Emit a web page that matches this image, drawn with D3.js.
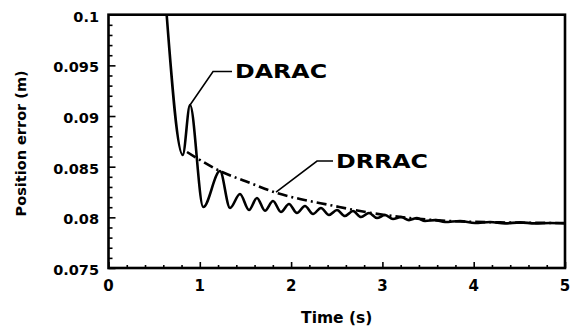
<!DOCTYPE html>
<html>
<head>
<meta charset="utf-8">
<script src="https://cdn.jsdelivr.net/npm/d3@7"></script>
<style>
    body { margin: 0; background: #fff; }
    svg { display: block; }
    text { font-family: "DejaVu Sans", "Liberation Sans", sans-serif; font-weight: bold; fill: #000; }
</style>
</head>
<body>
<svg id="chart"></svg>
<script>
// DARAC (solid) – time (s) and position error (m)
const daracTime = [0.637, 0.813, 0.893, 1.038, 1.221, 1.331, 1.440, 1.539, 1.626, 1.714,
    1.802, 1.889, 1.977, 2.064, 2.152, 2.240, 2.327, 2.415, 2.503, 2.590,
    2.678, 2.766, 2.853, 2.941, 3.028, 3.116, 3.204, 3.291, 3.379, 3.467,
    3.576, 3.686, 3.850, 4.014, 4.179, 4.343, 4.507, 4.671, 4.836, 5.0];
const daracError = [0.1, 0.08615, 0.09109, 0.08102, 0.08457, 0.08092, 0.0823, 0.08072, 0.08191, 0.08065,
    0.08161, 0.08053, 0.08132, 0.08043, 0.08112, 0.08033, 0.08092, 0.08023, 0.08072, 0.08013,
    0.08062, 0.08003, 0.08043, 0.07993, 0.08023, 0.07983, 0.08003, 0.07973, 0.07993, 0.07964,
    0.07973, 0.07954, 0.07964, 0.07944, 0.07954, 0.0794, 0.0795, 0.0794, 0.07944, 0.0794];

// DRRAC (dash-dot)
const drracTime = [0.860, 1.002, 1.243, 1.495, 1.845, 2.097, 2.426, 2.755, 3.028, 3.302, 3.740, 4.288, 5.0];
const drracError = [0.08645, 0.08566, 0.08447, 0.08359, 0.0824, 0.08181, 0.08121, 0.08062, 0.08023, 0.07993, 0.07964, 0.0795, 0.07944];

const xTicks = [0, 1, 2, 3, 4, 5];
const yTicks = [0.075, 0.08, 0.085, 0.09, 0.095, 0.1];
const yTickLabels = ['0.075', '0.08', '0.085', '0.09', '0.095', '0.1'];

const W = 573, H = 327;
const svg = d3.select('#chart').attr('width', W).attr('height', H);

const x = d3.scaleLinear().domain([0, 5]).range([108.5, 565]);
const y = d3.scaleLinear().domain([0.075, 0.1]).range([268, 14.7]);

svg.append('defs').append('clipPath').attr('id', 'plot-clip')
    .append('rect')
    .attr('x', x(0)).attr('y', y(0.1))
    .attr('width', x(5) - x(0)).attr('height', y(0.075) - y(0.1));

// 刻度（朝内）
const xMinor = d3.range(0, 5.001, 0.2).filter(v => Math.abs(v - Math.round(v)) > 1e-6);
const yMinor = d3.range(0.075, 0.1001, 0.001).filter(v => Math.abs(v * 200 - Math.round(v * 200)) > 1e-6);

const bottom = svg.append('g')
    .attr('transform', `translate(0,${y(0.075)})`)
    .call(d3.axisBottom(x).tickValues(xTicks).tickSize(-6).tickFormat(''));
bottom.append('g').call(d3.axisBottom(x).tickValues(xMinor).tickSize(-3).tickFormat(''));

const left = svg.append('g')
    .attr('transform', `translate(${x(0)},0)`)
    .call(d3.axisLeft(y).tickValues(yTicks).tickSize(-7).tickFormat(''));
left.append('g').call(d3.axisLeft(y).tickValues(yMinor).tickSize(-4).tickFormat(''));

svg.selectAll('.domain').remove();
svg.selectAll('.tick line').attr('stroke', '#000').attr('stroke-width', 1.6);

// 刻度标签
svg.append('g').selectAll('text')
    .data(xTicks).enter().append('text')
    .attr('x', d => x(d)).attr('y', 291)
    .attr('text-anchor', 'middle')
    .style('font-size', '15px')
    .text(d => d);

svg.append('g').selectAll('text')
    .data(yTicks).enter().append('text')
    .attr('x', 99).attr('y', d => y(d) + 7)
    .attr('text-anchor', 'end')
    .style('font-size', '14.5px')
    .text((d, i) => yTickLabels[i]);

// 坐标轴标题
svg.append('text')
    .attr('x', x(2.5)).attr('y', 323)
    .attr('text-anchor', 'middle')
    .style('font-size', '15.5px')
    .text('Time (s)');

svg.append('text')
    .attr('transform', `translate(26,${(y(0.1) + y(0.075)) / 2 + 2}) rotate(-90)`)
    .attr('text-anchor', 'middle')
    .style('font-size', '14.5px')
    .text('Position error (m)');

// 曲线
const plot = svg.append('g').attr('clip-path', 'url(#plot-clip)');

const lineGen = d3.line()
    .x(d => x(d[0]))
    .y(d => y(d[1]))
    .curve(d3.curveMonotoneX);

plot.append('path')
    .datum(drracTime.map((t, i) => [t, drracError[i]]))
    .attr('fill', 'none')
    .attr('stroke', '#000')
    .attr('stroke-width', 2.6)
    .attr('stroke-dasharray', '10,4,2,4')
    .attr('d', lineGen);

plot.append('path')
    .datum(daracTime.map((t, i) => [t, daracError[i]]))
    .attr('fill', 'none')
    .attr('stroke', '#000')
    .attr('stroke-width', 2.6)
    .attr('stroke-linejoin', 'round')
    .attr('d', lineGen);

// 外框
svg.append('rect')
    .attr('x', x(0)).attr('y', y(0.1))
    .attr('width', x(5) - x(0)).attr('height', y(0.075) - y(0.1))
    .attr('fill', 'none')
    .attr('stroke', '#000')
    .attr('stroke-width', 2.6);

// 标注
const notes = [
    { label: 'DARAC', leader: [[0.893, 0.09109], [1.145, 0.0944], [1.353, 0.0944]], pos: [1.386, 0.0938] },
    { label: 'DRRAC', leader: [[1.835, 0.08249], [2.284, 0.08556], [2.459, 0.08556]], pos: [2.492, 0.08487] }
];

notes.forEach(n => {
    svg.append('path')
        .datum(n.leader)
        .attr('fill', 'none')
        .attr('stroke', '#000')
        .attr('stroke-width', 1.6)
        .attr('d', d3.line().x(d => x(d[0])).y(d => y(d[1])));
    svg.append('text')
        .attr('x', x(n.pos[0])).attr('y', y(n.pos[1]))
        .attr('textLength', 92)
        .attr('lengthAdjust', 'spacingAndGlyphs')
        .style('font-size', '20px')
        .text(n.label);
});
</script>
</body>
</html>
